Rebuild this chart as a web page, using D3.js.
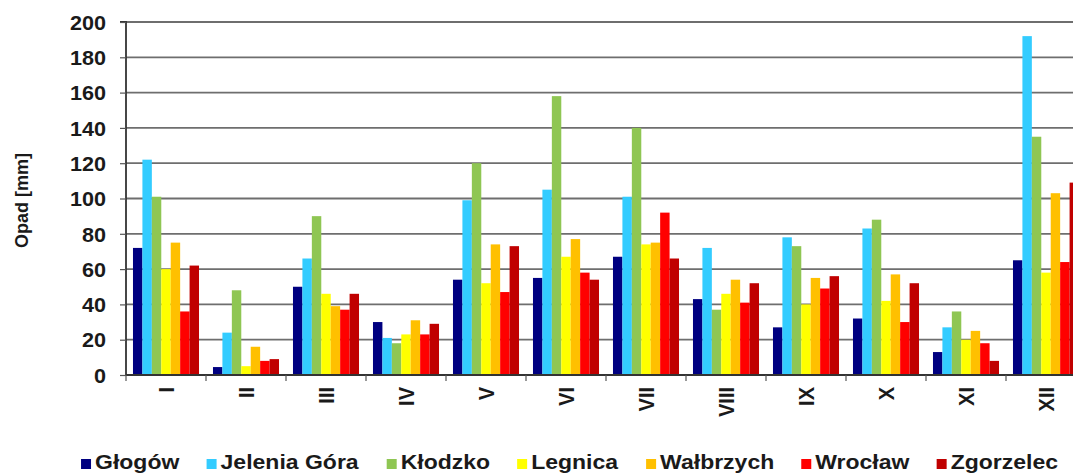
<!DOCTYPE html>
<html>
<head>
<meta charset="utf-8">
<script src="https://cdn.jsdelivr.net/npm/d3@7"></script>
<style>
  html, body { margin: 0; padding: 0; background: #ffffff; }
  svg { display: block; }
  text { font-family: "Liberation Sans", Arial, sans-serif; font-weight: bold; fill: #1a1a1a; }
</style>
</head>
<body>
<svg id="chart" width="1073" height="473"></svg>
<script>
// ---- data ----
const months = ["I","II","III","IV","V","VI","VII","VIII","IX","X","XI","XII"];
const series = ["Głogów","Jelenia Góra","Kłodzko","Legnica","Wałbrzych","Wrocław","Zgorzelec"];
const glogow      = [72, 4.5, 50, 30, 54, 55, 67, 43, 27, 32, 13, 65];
const jeleniaGora = [122, 24, 66, 21, 99, 105, 101, 72, 78, 83, 27, 192];
const klodzko     = [101, 48, 90, 18, 120, 158, 140, 37, 73, 88, 36, 135];
const legnica     = [60, 5, 46, 23, 52, 67, 74, 46, 40, 42, 20, 58];
const walbrzych   = [75, 16, 39, 31, 74, 77, 75, 54, 55, 57, 25, 103];
const wroclaw     = [36, 8, 37, 23, 47, 58, 92, 41, 49, 30, 18, 64];
const zgorzelec   = [62, 9, 46, 29, 73, 54, 66, 52, 56, 52, 8, 109];
const yTicks = [0, 20, 40, 60, 80, 100, 120, 140, 160, 180, 200];
const yTitle = "Opad [mm]";
const colors = ["#000080", "#33ccff", "#8fc653", "#ffff00", "#ffc000", "#ff0000", "#c00000"];

const valuesBySeries = [glogow, jeleniaGora, klodzko, legnica, walbrzych, wroclaw, zgorzelec];

// ---- layout ----
const svg = d3.select("#chart");
const mLeft = 126, mTop = 22, mBottom = 375;
const bandW = 80;
const sx = 1.15;          // horizontal stretch of the original picture's text
const fontMain = 20;

const x0 = d3.scaleBand().domain(months).range([mLeft, mLeft + bandW * months.length]).paddingInner(0).paddingOuter(0);
const x1 = d3.scaleBand().domain(series).range([0, x0.bandwidth()]).paddingInner(0).paddingOuter(0.74);
const y = d3.scaleLinear().domain([0, 200]).range([mBottom, mTop]);
const color = d3.scaleOrdinal().domain(series).range(colors);

// gridlines
svg.append("g").selectAll("line").data(yTicks.filter(d => d > 0)).join("line")
  .attr("x1", mLeft).attr("x2", 1073)
  .attr("y1", d => y(d)).attr("y2", d => y(d))
  .attr("stroke", "#6e6e6e").attr("stroke-width", 1.8);

// bars
const groups = svg.append("g").selectAll("g").data(months).join("g")
  .attr("transform", d => `translate(${x0(d)},0)`);
groups.selectAll("rect")
  .data((m, i) => series.map((s, k) => ({ s, v: valuesBySeries[k][i] })))
  .join("rect")
  .attr("x", d => x1(d.s))
  .attr("width", x1.bandwidth())
  .attr("y", d => y(d.v))
  .attr("height", d => y(0) - y(d.v))
  .attr("fill", d => color(d.s));

// y axis
const yAxis = d3.axisLeft(y).tickValues(yTicks).tickSize(6);
const gy = svg.append("g").attr("transform", `translate(${mLeft},0)`).call(yAxis);
gy.select(".domain").attr("stroke", "#333").attr("stroke-width", 1.8).attr("d", `M-6,${mTop}H0V${mBottom}`);
gy.selectAll(".tick line").attr("stroke", "#555").attr("stroke-width", 1.2);
gy.selectAll(".tick text")
  .attr("font-size", fontMain).attr("font-family", "Liberation Sans, Arial, sans-serif")
  .attr("font-weight", "bold").attr("fill", "#1a1a1a")
  .attr("x", 0).attr("dy", "0.36em")
  .attr("transform", `translate(-20,0) scale(1.08,1)`);

// x axis
const xAxis = d3.axisBottom(x0).tickSize(0).tickPadding(0);
const gx = svg.append("g").attr("transform", `translate(0,${mBottom})`).call(xAxis);
gx.select(".domain").attr("stroke", "#333").attr("stroke-width", 1.8).attr("d", `M${mLeft},0H1073`);
gx.selectAll(".tick text")
  .attr("font-size", 20).attr("font-family", "Liberation Sans, Arial, sans-serif")
  .attr("font-weight", "bold").attr("fill", "#1a1a1a")
  .attr("text-anchor", "end").attr("y", 0).attr("dy", "0.36em")
  .attr("transform", `translate(0,12) scale(1.1,1) rotate(-90)`);
// boundary ticks between categories
svg.append("g").selectAll("line").data(months).join("line")
  .attr("x1", d => x0(d)).attr("x2", d => x0(d))
  .attr("y1", mBottom).attr("y2", mBottom + 6)
  .attr("stroke", "#555").attr("stroke-width", 1.2);

// y title
svg.append("text")
  .attr("transform", `translate(22,${(mTop + mBottom) / 2 + 2}) rotate(-90)`)
  .attr("text-anchor", "middle").attr("dy", "0.36em")
  .attr("font-size", 18)
  .text(yTitle);

// legend
const legend = svg.append("g");
const legBase = 469;
const items = legend.selectAll("g").data(series).join("g");
items.append("rect").attr("width", 10).attr("height", 10).attr("y", -10).attr("fill", d => color(d));
items.append("text").attr("x", 0).attr("y", 0).attr("font-size", fontMain)
  .attr("transform", `translate(14,0) scale(${sx},1)`)
  .text(d => d);
const widths = [];
items.each(function() { widths.push(this.getBoundingClientRect().width); });
const endX = 1058, gap = 27;
const totalW = d3.sum(widths) + gap * (series.length - 1);
let cx = endX - totalW;
items.each(function(d, i) {
  d3.select(this).attr("transform", `translate(${cx},${legBase})`);
  cx += widths[i] + gap;
});
</script>
</body>
</html>
